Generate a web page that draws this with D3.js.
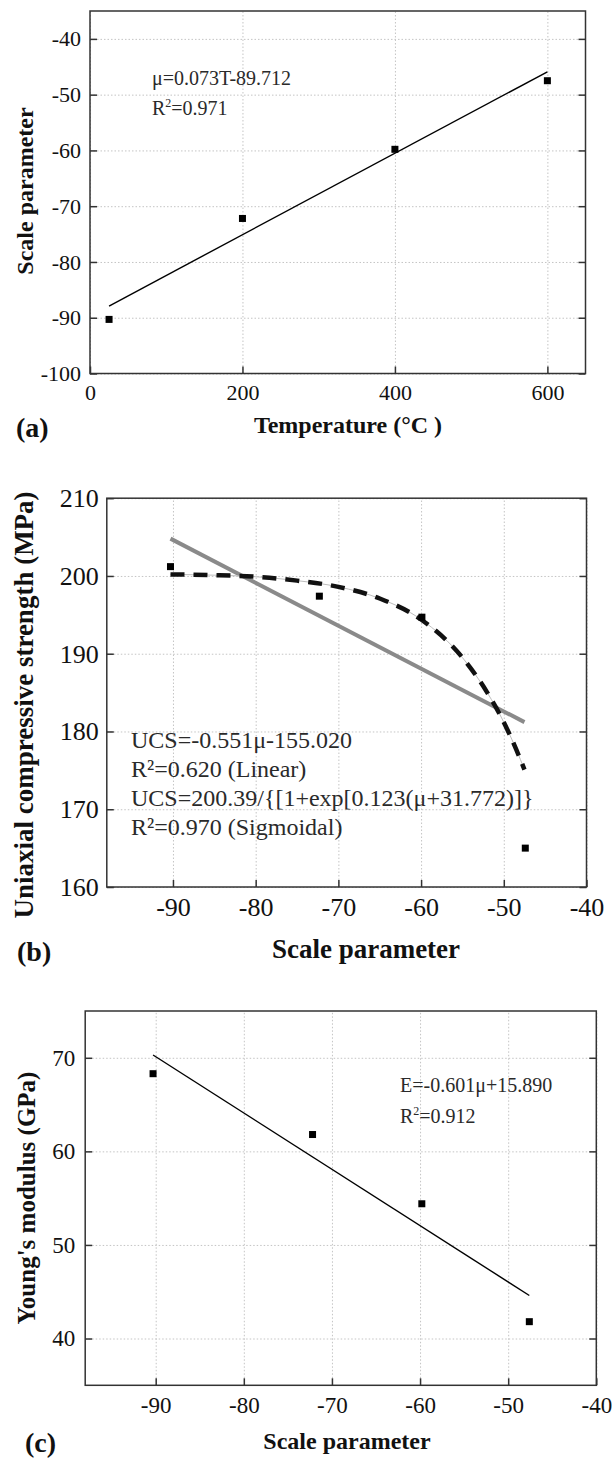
<!DOCTYPE html>
<html>
<head>
<meta charset="utf-8">
<script src="https://cdn.jsdelivr.net/npm/d3@7"></script>
<style>
body { margin: 0; background: #fff; }
svg { display: block; }
</style>
</head>
<body>
<script>
var SERIF = '"Liberation Serif", "Times New Roman", serif';

// (a) scale parameter vs temperature
var tempC = [25, 200, 400, 600];
var scaleA = [-90.3, -72.2, -59.8, -47.5];
var fitA = [{x: 25, y: -87.9}, {x: 600, y: -45.9}];
var ticksXA = [0, 200, 400, 600];
var ticksYA = [-100, -90, -80, -70, -60, -50, -40];

// (b) UCS vs scale parameter
var scaleB = [-90.3, -72.3, -59.9, -47.4];
var ucs = [201.2, 197.4, 194.7, 165.0];
var linB = [{x: -90.3, y: 204.8}, {x: -47.5, y: 181.2}];
var sigX = [-90.3, -85, -80, -75, -70, -65, -60, -55, -52, -50, -48.5, -47.5];
var sigY = [200.2, 200.1, 199.9, 199.4, 198.6, 197.1, 194.4, 189.5, 185.0, 181.2, 177.7, 175.1];
var ticksXB = [-90, -80, -70, -60, -50, -40];
var ticksYB = [160, 170, 180, 190, 200, 210];

// (c) Young's modulus vs scale parameter
var scaleC = [-90.3, -72.2, -59.8, -47.6];
var young = [68.3, 61.8, 54.4, 41.8];
var fitC = [{x: -90.3, y: 70.3}, {x: -47.6, y: 44.6}];
var ticksYC = [40, 50, 60, 70];

var svg = d3.select('body').append('svg').attr('width', 613).attr('height', 1460);

function panel(c) {
    var x = d3.scaleLinear().domain(c.xd).range([c.l, c.r]);
    var y = d3.scaleLinear().domain(c.yd).range([c.b, c.t]);
    var g = svg.append('g');

    // dotted grid
    var grid = g.append('g');
    grid.append('g').attr('transform', 'translate(0,' + c.b + ')')
        .call(d3.axisBottom(x).tickValues(c.xt).tickSize(-(c.b - c.t)).tickFormat(''));
    grid.append('g').attr('transform', 'translate(' + c.l + ',0)')
        .call(d3.axisLeft(y).tickValues(c.yt).tickSize(-(c.r - c.l)).tickFormat(''));
    grid.selectAll('.domain').remove();
    grid.selectAll('line').attr('stroke', '#c4c4c4').attr('stroke-width', 1).attr('stroke-dasharray', '1.5,2');

    g.append('rect').attr('x', c.l).attr('y', c.t).attr('width', c.r - c.l).attr('height', c.b - c.t)
        .attr('fill', 'none').attr('stroke', '#333').attr('stroke-width', 1.5);

    var fmt = function(d) { return String(d); };
    var left = g.append('g').attr('transform', 'translate(' + c.l + ',0)')
        .call(d3.axisLeft(y).tickValues(c.yt).tickSize(-7).tickPadding(c.py).tickFormat(fmt));
    var right = g.append('g').attr('transform', 'translate(' + c.r + ',0)')
        .call(d3.axisRight(y).tickValues(c.yt).tickSize(-7).tickFormat(''));
    var bottom = g.append('g').attr('transform', 'translate(0,' + c.b + ')')
        .call(d3.axisBottom(x).tickValues(c.xt).tickSize(-7).tickPadding(c.px).tickFormat(fmt));
    right.selectAll('text').remove();
    [left, right, bottom].forEach(function(a) {
        a.select('.domain').remove();
        a.selectAll('line').attr('stroke', '#333').attr('stroke-width', 1.5);
        a.attr('font-family', SERIF).attr('font-size', c.fs);
        a.selectAll('text').attr('fill', '#111').attr('font-family', SERIF).attr('font-size', c.fs);
    });
    return {g: g, x: x, y: y};
}

function squares(p, xs, ys) {
    p.g.selectAll('rect.pt').data(xs).enter().append('rect').attr('class', 'pt')
        .attr('x', function(d) { return p.x(d) - 3.5; })
        .attr('y', function(d, i) { return p.y(ys[i]) - 3.5; })
        .attr('width', 7).attr('height', 7).attr('fill', '#000');
}

function label(txt, x, y, size, rot) {
    var t = svg.append('text').attr('font-family', SERIF).attr('font-size', size).attr('font-weight', 'bold')
        .attr('fill', '#111').attr('text-anchor', 'middle').text(txt);
    if (rot) t.attr('transform', 'translate(' + x + ',' + y + ') rotate(-90)');
    else t.attr('x', x).attr('y', y);
    return t;
}

function tag(txt, x, y) {
    svg.append('text').attr('x', x).attr('y', y).attr('font-family', SERIF).attr('font-size', 28)
        .attr('font-weight', 'bold').attr('fill', '#111').text(txt);
}

function note(p, x, y, size, main, sup, rest) {
    var t = p.g.append('text').attr('x', x).attr('y', y).attr('font-family', SERIF)
        .attr('font-size', size).attr('fill', '#2a2a2a');
    t.append('tspan').text(main);
    if (sup) {
        t.append('tspan').attr('font-size', size * 0.6).attr('dy', -size * 0.4).text(sup);
        t.append('tspan').attr('dy', size * 0.4).text(rest);
    }
}

// ---------- (a)
var pa = panel({l: 90, r: 585.5, t: 11, b: 373.5, xd: [0, 650], yd: [-100, -35],
    xt: ticksXA, yt: ticksYA, fs: 22, py: 9, px: 11});
var line = d3.line().x(function(d) { return pa.x(d.x); }).y(function(d) { return pa.y(d.y); });
pa.g.append('path').attr('d', line(fitA)).attr('fill', 'none').attr('stroke', '#000').attr('stroke-width', 1.4);
squares(pa, tempC, scaleA);
note(pa, 152, 85, 20, 'μ=0.073T-89.712');
note(pa, 152, 115, 20, 'R', '2', '=0.971');
label('Scale parameter', 33, 191, 24, true);
label('Temperature (°C )', 348, 433, 24);
tag('(a)', 16, 437);

// ---------- (b)
var pb = panel({l: 106.8, r: 586.5, t: 498.2, b: 887, xd: [-98, -40], yd: [160, 210],
    xt: ticksXB, yt: ticksYB, fs: 26, py: 8, px: 11});
var lineB = d3.line().x(function(d) { return pb.x(d.x); }).y(function(d) { return pb.y(d.y); });
var sigB = sigX.map(function(v, i) { return {x: v, y: sigY[i]}; });
pb.g.append('path').attr('d', lineB(linB)).attr('fill', 'none').attr('stroke', '#8a8a8a').attr('stroke-width', 4);
lineB.curve(d3.curveMonotoneX);
pb.g.append('path').attr('d', lineB(sigB)).attr('fill', 'none').attr('stroke', '#bdbdbd').attr('stroke-width', 1);
pb.g.append('path').attr('d', lineB(sigB)).attr('fill', 'none').attr('stroke', '#111')
    .attr('stroke-width', 4.5).attr('stroke-dasharray', '14,9');
squares(pb, scaleB, ucs);
note(pb, 131, 748, 24, 'UCS=-0.551μ-155.020');
note(pb, 131, 777, 24, 'R²=0.620 (Linear)');
note(pb, 131, 806, 24, 'UCS=200.39/{[1+exp[0.123(μ+31.772)]}');
note(pb, 131, 835, 24, 'R²=0.970 (Sigmoidal)');
label('Uniaxial compressive strength (MPa)', 33, 705, 27, true);
label('Scale parameter', 366, 958, 27);
tag('(b)', 17, 961);

// ---------- (c)
var pc = panel({l: 85.2, r: 596.3, t: 1011, b: 1385.3, xd: [-98, -40], yd: [35, 75],
    xt: ticksXB, yt: ticksYC, fs: 23, py: 10, px: 11});
var lineC = d3.line().x(function(d) { return pc.x(d.x); }).y(function(d) { return pc.y(d.y); });
pc.g.append('path').attr('d', lineC(fitC)).attr('fill', 'none').attr('stroke', '#000').attr('stroke-width', 1.4);
squares(pc, scaleC, young);
note(pc, 400, 1092, 20, 'E=-0.601μ+15.890');
note(pc, 400, 1123, 20, 'R', '2', '=0.912');
label("Young's modulus (GPa)", 35, 1198, 25, true);
label('Scale parameter', 347, 1449, 24);
tag('(c)', 25, 1452);
</script>
</body>
</html>
